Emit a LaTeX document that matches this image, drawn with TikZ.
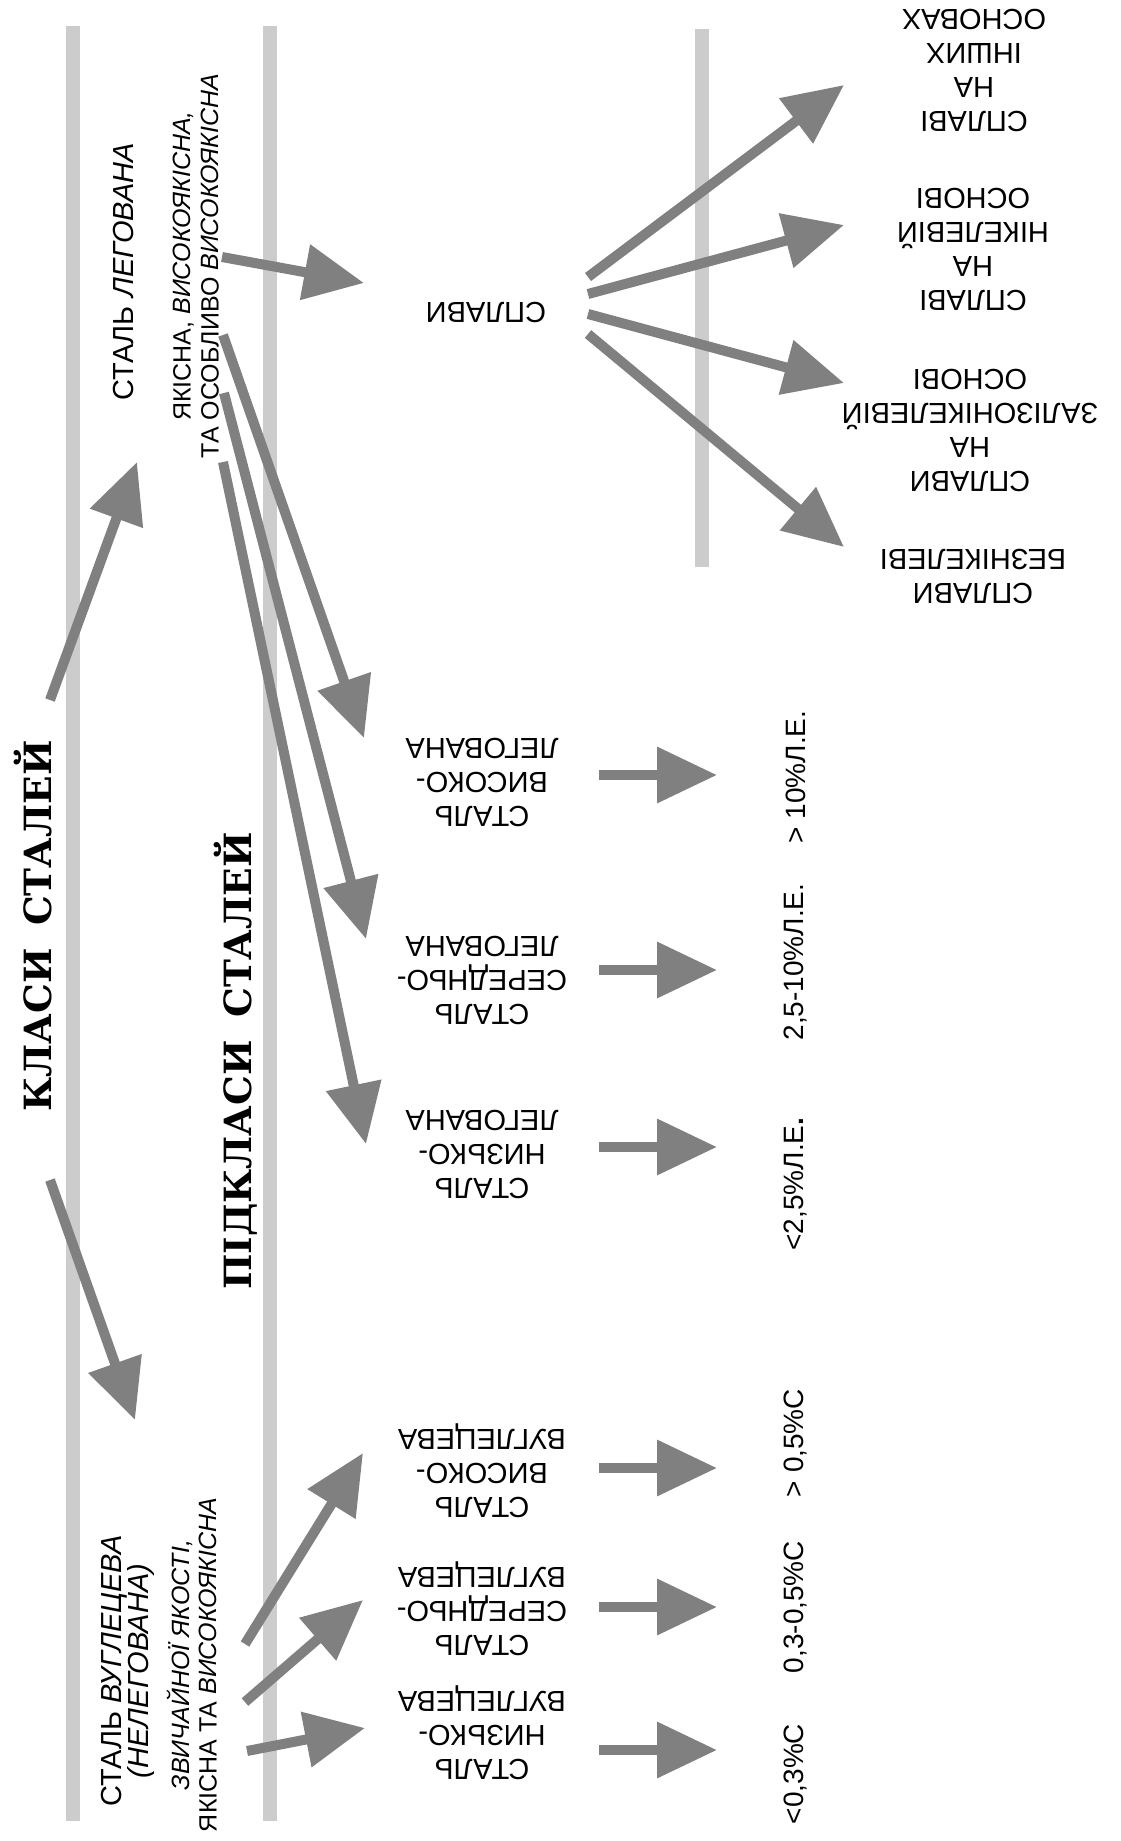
\documentclass[tikz,border=0pt]{standalone}
\usepackage{fontspec}
\setmainfont{Liberation Sans}
\newfontfamily\headfont{DejaVu Serif}
\usetikzlibrary{arrows.meta,calc}
\definecolor{arrgray}{HTML}{808080}
\definecolor{bargray}{HTML}{CCCCCC}

\begin{document}
\begin{tikzpicture}[x=1pt,y=-1pt,
  arr/.style={draw=arrgray,line width=10pt,-{Triangle[length=60pt,width=54pt]}},
  band/.style={fill=bargray},
  head/.style={rotate=90,inner sep=0pt,font=\headfont\bfseries\fontsize{37.5}{44}\selectfont},
  side/.style={rotate=90,inner sep=0pt,align=center},
  flip/.style={rotate=180,inner sep=0pt,align=center,font=\fontsize{29}{34}\selectfont},
  pct/.style={rotate=90,inner sep=0pt,font=\fontsize{28}{33}\selectfont},
]
% canvas
\fill[white] (0,0) rectangle (1120,1841);
\useasboundingbox (0,0) rectangle (1120,1841);

% grey guide bands
\fill[band] (66,26) rectangle (80,1821);
\fill[band] (263,26) rectangle (277,1821);
\fill[band] (695,29) rectangle (709,567);

% headings
\node[head] (klasy) at (33,926) {КЛАСИ\hspace{0.6em}СТАЛЕЙ};
\node[head] (pidkl) at (236,1061) {ПІДКЛАСИ\hspace{0.6em}СТАЛЕЙ};

% classes
\node[side,font=\fontsize{29}{34}\selectfont] (legov) at (124,272) {СТАЛЬ \textit{ЛЕГОВАНА}};
\node[side,font=\fontsize{25}{28}\selectfont] (legq) at (196,266)
  {ЯКІСНА, \textit{ВИСОКОЯКІСНА,}\\ТА ОСОБЛИВО \textit{ВИСОКОЯКІСНА}};
\node[side,font=\fontsize{29}{27}\selectfont] (vugl) at (128,1671)
  {СТАЛЬ \textit{ВУГЛЕЦЕВА}\\\textit{(НЕЛЕГОВАНА)}};
\node[side,font=\fontsize{25}{27}\selectfont] (vuglq) at (192,1665)
  {\textit{ЗВИЧАЙНОЇ ЯКОСТІ,}\\ЯКІСНА ТА \textit{ВИСОКОЯКІСНА}};

% alloys
\node[flip] (splavy) at (486,312) {СПЛАВИ};
\node[flip] (a1) at (974,70) {СПЛАВІ\\НА\\ІНШИХ\\ОСНОВАХ};
\node[flip] (a2) at (973,249) {СПЛАВІ\\НА\\НІКЕЛЕВІЙ\\ОСНОВІ};
\node[flip] (a3) at (970,430) {СПЛАВИ\\НА\\ЗАЛІЗОНІКЕЛЕВІЙ\\ОСНОВІ};
\node[flip] (a4) at (973,576) {СПЛАВИ\\БЕЗНІКЕЛЕВІ};

% alloyed subclasses
\node[flip] (sl3) at (482,782) {СТАЛЬ\\ВИСОКО-\\ЛЕГОВАНА};
\node[flip] (sl2) at (482,980) {СТАЛЬ\\СЕРЕДНЬО-\\ЛЕГОВАНА};
\node[flip] (sl1) at (482,1154) {СТАЛЬ\\НИЗЬКО-\\ЛЕГОВАНА};

% carbon subclasses
\node[flip] (sc3) at (482,1471) {СТАЛЬ\\ВИСОКО-\\ВУГЛЕЦЕВА};
\node[flip] (sc2) at (482,1609) {СТАЛЬ\\СЕРЕДНЬО-\\ВУГЛЕЦЕВА};
\node[flip] (sc1) at (482,1733) {СТАЛЬ\\НИЗЬКО-\\ВУГЛЕЦЕВА};

% contents
\node[pct] (pl3) at (796,777) {> 10\%Л.Е.};
\node[pct] (pl2) at (796,962) {2,5-10\%Л.Е.};
\node[pct] (pl1) at (796,1184) {<2,5\%Л.Е\textbf{.}};
\node[pct] (pc3) at (796,1443) {> 0,5\%С};
\node[pct] (pc2) at (796,1607) {0,3-0,5\%С};
\node[pct] (pc1) at (796,1774) {<0,3\%С};

% class arrows
\draw[arr] ($(klasy)+(17,-226)$) -- ($(legov)+(13,190)$);
\draw[arr] ($(klasy)+(17,254)$) -- ($(vugl)+(7,-251)$);

% alloyed branch
\draw[arr] ($(legq)+(26,-9)$) -- ($(splavy)+(-122,-29)$);
\draw[arr] ($(legq)+(27,69)$) -- ($(sl3)+(-118,-44)$);
\draw[arr] ($(legq)+(28,127)$) -- ($(sl2)+(-116,-41)$);
\draw[arr] ($(legq)+(27,196)$) -- ($(sl1)+(-116,-10)$);

% alloy fan
\draw[arr] ($(splavy)+(102,-35)$) -- ($(a1)+(-130,15)$);
\draw[arr] ($(splavy)+(102,-18)$) -- ($(a2)+(-129,-24)$);
\draw[arr] ($(splavy)+(102,2)$) -- ($(a3)+(-126,-47)$);
\draw[arr] ($(splavy)+(102,22)$) -- ($(a4)+(-129,-29)$);

% carbon branch
\draw[arr] ($(vuglq)+(53,-21)$) -- ($(sc3)+(-119,-18)$);
\draw[arr] ($(vuglq)+(53,37)$) -- ($(sc2)+(-119,-9)$);
\draw[arr] ($(vuglq)+(55,86)$) -- ($(sc1)+(-117,-5)$);

% subclass to content
\draw[arr] ($(sl3)+(117,-7)$) -- ($(pl3)+(-79,-2)$);
\draw[arr] ($(sl2)+(117,-10)$) -- ($(pl2)+(-79,8)$);
\draw[arr] ($(sl1)+(117,-7)$) -- ($(pl1)+(-79,-37)$);
\draw[arr] ($(sc3)+(117,-3)$) -- ($(pc3)+(-79,25)$);
\draw[arr] ($(sc2)+(117,-2)$) -- ($(pc2)+(-79,0)$);
\draw[arr] ($(sc1)+(117,17)$) -- ($(pc1)+(-79,-24)$);
\end{tikzpicture}
\end{document}
